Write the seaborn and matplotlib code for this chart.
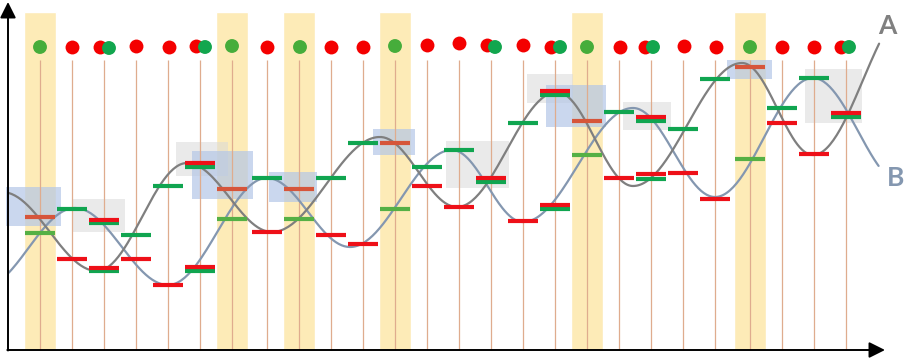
import numpy as np
import pandas as pd
import matplotlib.pyplot as plt
import seaborn as sns

sns.set_style('white')
plt.rcParams['font.family'] = ['Lato', 'DejaVu Sans']

# guide positions (picture units, y grows downward)
tick_x = [40, 72, 104, 136, 168, 200, 232, 267, 299, 331, 363, 395, 427,
          459, 491, 523, 555, 587, 619, 651, 683, 715, 750, 782, 814, 846]
band_x = [40, 232, 299, 395, 587, 750]

# turning points of the two curves
curve_a_x = [2, 97, 187, 272, 380, 457, 557, 633, 742, 813, 913]
curve_a_y = [192, 271, 163, 232, 137, 207, 92, 186, 63, 155, 5]
curve_b_x = [-18, 75, 168, 267, 350, 452, 523, 633, 715, 813, 903]
curve_b_y = [288, 208, 285, 178, 247, 150, 222, 108, 197, 78, 184]

# red / green level dashes
red_x = [40, 72, 104, 104, 136, 168, 200, 200, 232, 267, 299, 331, 363, 395,
         427, 459, 491, 523, 555, 555, 587, 619, 651, 651, 683, 715, 750,
         782, 814, 846]
red_y = [217, 259, 219.5, 268, 259, 285, 163, 267, 189, 232, 189, 235, 244,
         143, 186, 207, 178, 221, 91, 205, 121, 178, 117, 174, 173, 199, 67,
         123, 154, 113]
green_x = [40, 72, 104, 104, 136, 168, 200, 200, 232, 267, 299, 331, 363,
           395, 427, 459, 491, 523, 555, 555, 587, 619, 651, 651, 683, 715,
           750, 782, 814, 846]
green_y = [233, 209, 222.5, 271, 235, 186, 167, 271, 219, 178, 219, 178, 143,
           209, 167, 150, 182, 123, 95, 209, 155, 112, 121, 179, 129, 79, 159,
           108, 78, 116.5]

# dots on top
red_dot_x = [72, 100, 136, 169, 196, 267, 331, 363, 427, 459, 487, 523, 551,
             620, 645, 684, 716, 782, 814, 841]
red_dot_y = [47, 47, 46, 47, 46, 47, 47, 47, 45, 43, 45, 45, 47, 47, 47, 46,
             47, 47, 47, 47]
green_dot_x = [40, 109, 205, 232, 300, 395, 495, 560, 587, 653, 750, 849]
green_dot_y = [47, 48, 47, 46, 47, 46, 47, 47, 47, 47, 47, 47]
green_dot_in_band = [True, False, False, True, True, True, False, False,
                     True, False, True, False]

# shaded boxes
box_x0 = [6, 72, 176, 192, 269, 373, 446, 527, 546, 623, 727, 805]
box_x1 = [61, 125, 228, 253, 317, 415, 509, 573, 606, 671, 772, 862]
box_y0 = [187, 199, 142, 151, 172, 129, 141, 74, 85, 102, 60, 69]
box_y1 = [226, 232, 176, 199, 202, 155, 188, 103, 127, 130, 79, 123]
box_kind = ['blue', 'grey', 'grey', 'blue', 'blue', 'blue', 'grey', 'grey',
            'blue', 'grey', 'blue', 'grey']


def smooth(xs, ys, lo=8, hi=880):
    # half-cosine easing between the turning points
    px, py = [], []
    for i in range(len(xs) - 1):
        t = np.linspace(0, 1, 60)
        px.append(xs[i] + (xs[i + 1] - xs[i]) * t)
        py.append(ys[i] + (ys[i + 1] - ys[i]) * (1 - np.cos(np.pi * t)) / 2)
    px = np.concatenate(px)
    py = np.concatenate(py)
    keep = (px >= lo) & (px <= hi)
    return px[keep], py[keep]


fig = plt.figure(figsize=(9.06, 3.6), dpi=100)
ax = fig.add_axes([0, 0, 1, 1])
ax.set_xlim(0, 906)
ax.set_ylim(360, 0)
ax.axis('off')

# yellow bands
ax.bar(band_x, 338, bottom=12, width=32, color='#fdebb7', zorder=1)

# boxes
box_colors = {'grey': ('#d9d9d9', 0.55), 'blue': ('#b4c7e7', 0.7)}
for x0, x1, y0, y1, k in zip(box_x0, box_x1, box_y0, box_y1, box_kind):
    c, a = box_colors[k]
    ax.bar(x0, y1 - y0, bottom=y0, width=x1 - x0, align='edge',
           color=c, alpha=a, zorder=2, lw=0)

# thin guides
ax.vlines(tick_x, 60, 350, color='#dfac8e', lw=0.9, zorder=3)

# curves
ax_x, ax_y = smooth(curve_a_x, curve_a_y)
bx_x, bx_y = smooth(curve_b_x, curve_b_y)
sns.lineplot(x=bx_x, y=bx_y, ax=ax, color='#8497b0', lw=1.6, sort=False,
             estimator=None, zorder=4)
sns.lineplot(x=ax_x, y=ax_y, ax=ax, color='#7f7f7f', lw=1.6, sort=False,
             estimator=None, zorder=4)

# dashes
dash = pd.DataFrame({
    'x': green_x + red_x,
    'y': green_y + red_y,
    'kind': ['green'] * len(green_x) + ['red'] * len(red_x),
})
dash['band'] = dash['x'].isin(band_x)
dash_colors = {('red', False): '#ee1018', ('red', True): '#d6553a',
               ('green', False): '#10a550', ('green', True): '#55b045'}
for (k, b), grp in dash.groupby(['kind', 'band'], sort=False):
    ax.hlines(grp['y'], grp['x'] - 15, grp['x'] + 15,
              color=dash_colors[(k, b)], lw=3, zorder=5 if k == 'red' else 4.5)

# dots
sns.scatterplot(x=red_dot_x, y=red_dot_y, ax=ax, color='#f40000', s=100,
                linewidth=0, zorder=6)
g_cols = ['#46ad3b' if b else '#12a64e' for b in green_dot_in_band]
ax.scatter(green_dot_x, green_dot_y, c=g_cols, s=100, linewidths=0, zorder=7)

# axes arrows
arrow = dict(arrowstyle='-|>', color='black', lw=1.4, mutation_scale=24,
             shrinkA=0, shrinkB=0)
ax.annotate('', xy=(8, 2), xytext=(8, 350.5), arrowprops=arrow, zorder=8)
ax.annotate('', xy=(885, 350), xytext=(7.3, 350), arrowprops=arrow, zorder=8)

ax.text(887, 26, 'A', fontsize=19, fontweight='bold', color='#808080',
        ha='center', va='center')
ax.text(896, 178, 'B', fontsize=19, fontweight='bold', color='#8497b0',
        ha='center', va='center')

fig.savefig('out.png', dpi=100)
